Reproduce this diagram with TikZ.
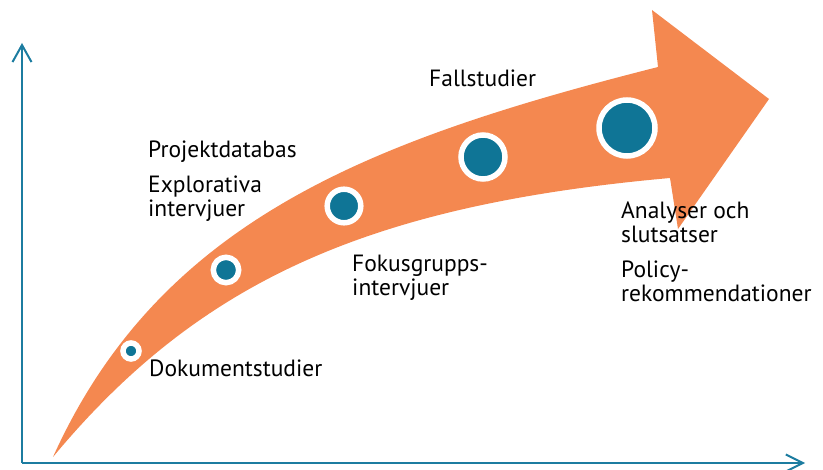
\documentclass[tikz,border=0pt]{standalone}
\usepackage{fontspec}
\setmainfont{PT Sans}
\usepackage{tikz}
\usetikzlibrary{arrows.meta}

\begin{document}
\begin{tikzpicture}[x=1pt,y=-1pt,
  stage/.style={circle,draw=white,line width=5.5pt,fill=dotColor,inner sep=0pt},
  lbl/.style={anchor=base west,inner sep=0pt,align=left,font=\fontsize{23.5}{24.5}\selectfont}]
\useasboundingbox (0,0) rectangle (823,470);
\definecolor{axisColor}{RGB}{28,124,160}
\definecolor{arrowColor}{RGB}{244,136,80}
\definecolor{dotColor}{RGB}{15,117,150}
\coordinate (origin) at (22,463);
\coordinate (y top) at (22,43);
\coordinate (x end) at (805,463);
\draw[line width=2pt,color=axisColor,-{Straight Barb[length=17pt,width=19pt]}] (origin) -- (y top);
\draw[line width=2pt,color=axisColor,-{Straight Barb[length=17pt,width=17pt]}] (origin) -- (x end);
\fill[color=arrowColor] (53,457) .. controls (160,220) and (370,140) .. (658,67) -- (652,10) -- (769,99) -- (678,229) -- (670,178) .. controls (370,205) and (200,280) .. (53,457) -- cycle;
\foreach \x/\y/\r [count=\i] in {131/351/8, 226/270/12.7, 344/206/16.8, 483/157/22, 627/128/28}
  \node[stage,minimum size=\r*2pt] (c\i) at (\x,\y) {};
\node[lbl] (dok) at (149,377) {Dokumentstudier};
\node[lbl] (fok) at (352,296) {Fokusgrupps-\\intervjuer};
\node[lbl] (proj) at (148,158) {Projektdatabas};
\node[lbl] (expl) at (148,217) {Explorativa\\intervjuer};
\node[lbl] (fall) at (429,87) {Fallstudier};
\node[lbl] (anal) at (621,243) {Analyser och\\slutsatser};
\node[lbl] (pol) at (621,302) {Policy-\\rekommendationer};
\end{tikzpicture}
\end{document}
